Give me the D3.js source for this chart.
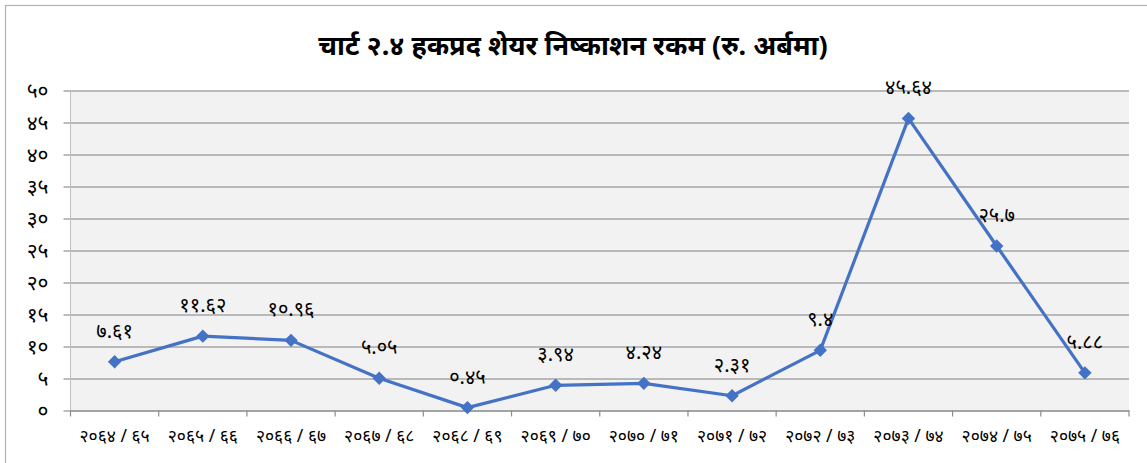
<!DOCTYPE html>
<html>
<head>
<meta charset="utf-8">
<script src="https://cdn.jsdelivr.net/npm/d3@7"></script>
<style>
    body { margin: 0; background: #fff; }
    svg text { font-family: "Noto Sans", "Noto Sans Devanagari", "Lohit Devanagari", sans-serif; }
</style>
</head>
<body>
<svg id="chart" width="1147" height="463"></svg>
<script>
const title = "चार्ट २.४ हकप्रद शेयर निष्काशन रकम (रु. अर्बमा)";
const years = [
    "२०६४/६५", "२०६५/६६", "२०६६/६७", "२०६७/६८", "२०६८/६९", "२०६९/७०",
    "२०७०/७१", "२०७१/७२", "२०७२/७३", "२०७३/७४", "२०७४/७५", "२०७५/७६",
];
const amounts = [7.61, 11.62, 10.96, 5.05, 0.45, 3.94, 4.24, 2.31, 9.4, 45.64, 25.7, 5.88];
const yTicks = [0, 5, 10, 15, 20, 25, 30, 35, 40, 45, 50];

const nepDigits = "०१२३४५६७८९";
const toNep = (v) => String(v).replace(/[0-9]/g, (d) => nepDigits[+d]);

const svg = d3.select("#chart");
const margin = { left: 70.5, right: 1129, top: 90.5, bottom: 410.5 };

// outer chart border
svg.append("rect")
    .attr("x", 5.5).attr("y", 5.5)
    .attr("width", 1160).attr("height", 480)
    .attr("fill", "#fff")
    .attr("stroke", "#b3b3b3")
    .attr("stroke-width", 1.2);

svg.append("text")
    .attr("x", 573).attr("y", 55)
    .attr("text-anchor", "middle")
    .attr("font-size", 27)
    .attr("font-weight", "bold")
    .attr("fill", "#000")
    .text(title);

const x = d3.scaleBand()
    .domain(years)
    .range([margin.left, margin.right]);

const y = d3.scaleLinear()
    .domain([0, 50])
    .range([margin.bottom, margin.top]);

// plot area
svg.append("rect")
    .attr("x", margin.left).attr("y", margin.top)
    .attr("width", margin.right - margin.left)
    .attr("height", margin.bottom - margin.top)
    .attr("fill", "#f2f2f2");

// gridlines + y ticks
const yAxis = svg.append("g")
    .attr("transform", `translate(${margin.left},0)`)
    .call(d3.axisLeft(y)
        .tickValues(yTicks)
        .tickSize(-(margin.right - margin.left))
        .tickSizeOuter(0)
        .tickPadding(22)
        .tickFormat(toNep));
yAxis.select(".domain").remove();
yAxis.selectAll(".tick line")
    .attr("x1", -7)
    .attr("stroke", "#a6a6a6")
    .attr("stroke-width", 1.5);
yAxis.selectAll(".tick text")
    .attr("font-size", 21)
    .attr("fill", "#000");

// left axis line
svg.append("line")
    .attr("x1", margin.left).attr("x2", margin.left)
    .attr("y1", margin.top).attr("y2", margin.bottom)
    .attr("stroke", "#bfbfbf")
    .attr("stroke-width", 1);

// x axis
const xAxis = svg.append("g")
    .attr("transform", `translate(0,${margin.bottom})`)
    .call(d3.axisBottom(x).tickSize(0).tickPadding(19));
xAxis.select(".domain")
    .attr("stroke", "#8c8c8c")
    .attr("stroke-width", 1.2);
xAxis.selectAll(".tick text")
    .attr("font-size", 17.5)
    .attr("fill", "#000")
    .text((d) => d.replace("/", " / "));

const bounds = years.map((d) => x(d)).concat([margin.right]);
xAxis.selectAll(".cat-tick")
    .data(bounds)
    .enter()
    .append("line")
    .attr("class", "cat-tick")
    .attr("x1", (d) => d).attr("x2", (d) => d)
    .attr("y1", 0).attr("y2", 6)
    .attr("stroke", "#8c8c8c")
    .attr("stroke-width", 1.2);

const cx = (d, i) => x(years[i]) + x.bandwidth() / 2;

const line = d3.line()
    .x((d, i) => cx(d, i))
    .y((d) => y(d));

svg.append("path")
    .datum(amounts)
    .attr("d", line)
    .attr("fill", "none")
    .attr("stroke", "#4472c4")
    .attr("stroke-width", 3.2)
    .attr("stroke-linejoin", "round");

svg.selectAll(".marker")
    .data(amounts)
    .enter()
    .append("path")
    .attr("class", "marker")
    .attr("d", d3.symbol().type(d3.symbolDiamond2).size(115))
    .attr("transform", (d, i) => `translate(${cx(d, i)},${y(d)})`)
    .attr("fill", "#4472c4");

svg.selectAll(".val-label")
    .data(amounts)
    .enter()
    .append("text")
    .attr("class", "val-label")
    .attr("x", (d, i) => cx(d, i))
    .attr("y", (d) => y(d) - 24)
    .attr("text-anchor", "middle")
    .attr("font-size", 20)
    .attr("fill", "#000")
    .text((d) => toNep(d));
</script>
</body>
</html>
